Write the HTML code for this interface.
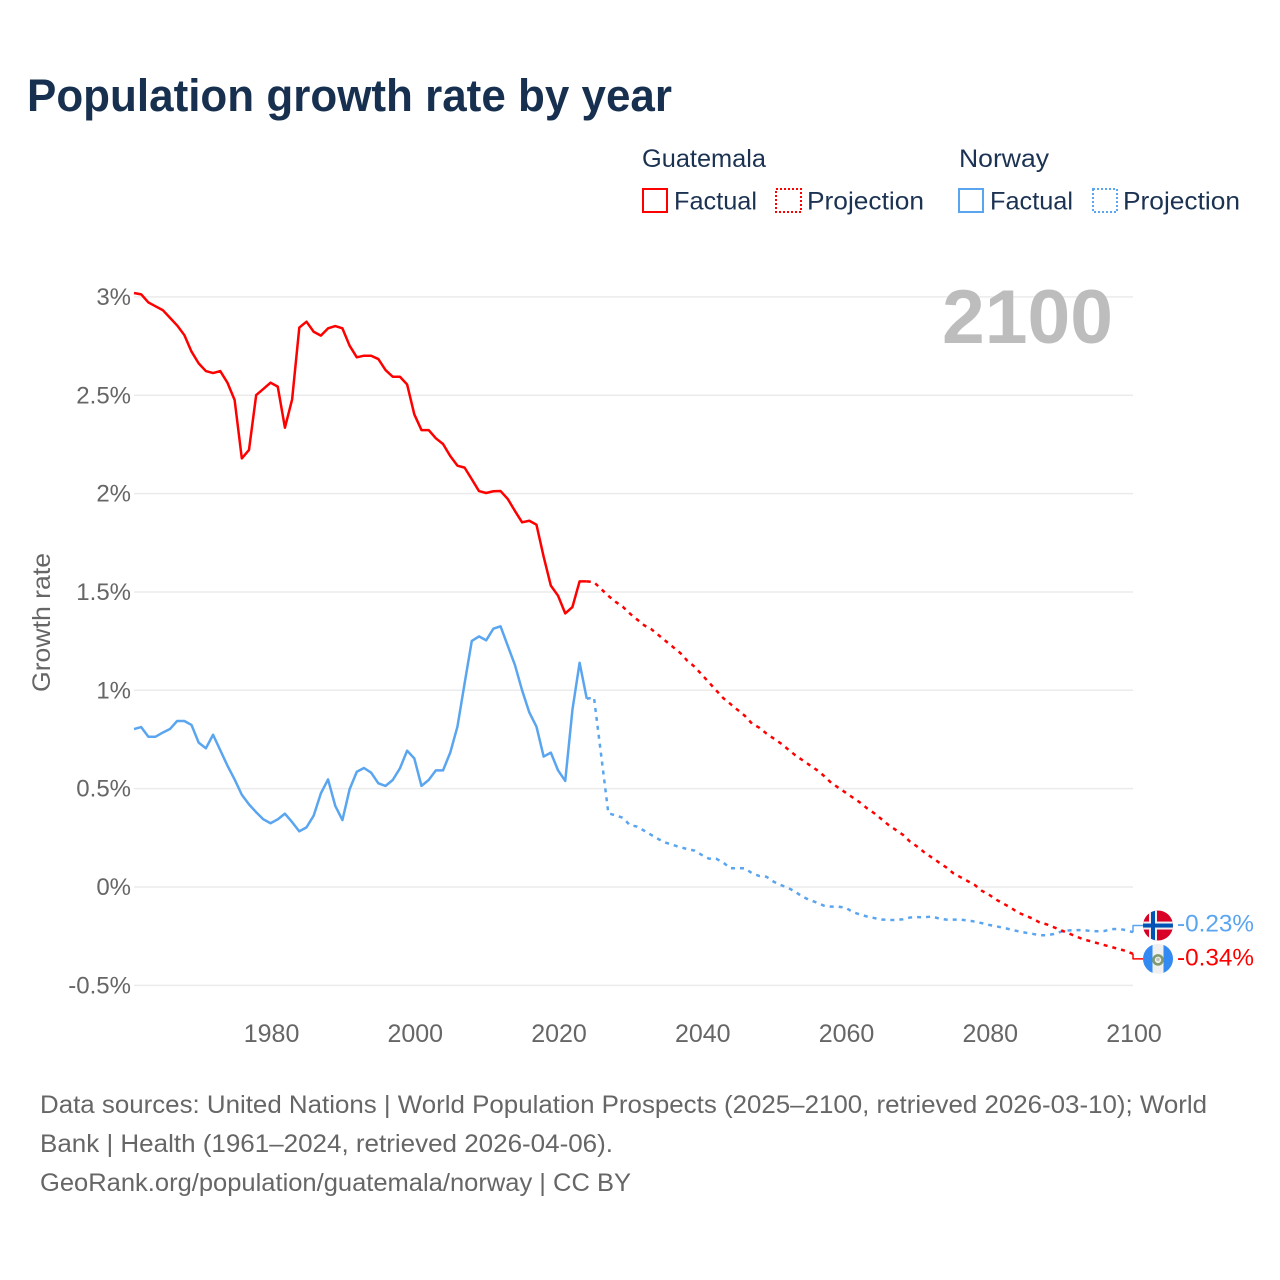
<!DOCTYPE html>
<html lang="en">
<head>
<meta charset="utf-8">
<title>Population growth rate by year</title>
<style>
html,body{margin:0;padding:0;background:#fff}
svg{display:block}
text{font-family:"Liberation Sans",sans-serif}
</style>
</head>
<body>
<svg id="chart" xmlns="http://www.w3.org/2000/svg" width="1280" height="1280" viewBox="0 0 1280 1280">
  <defs>
    <clipPath id="clip-no"><circle cx="0" cy="0" r="15"/></clipPath>
    <clipPath id="clip-gt"><circle cx="0" cy="0" r="15"/></clipPath>
  </defs>
  <rect width="1280" height="1280" fill="#fff"/>
  <text x="27" y="111" font-size="45" font-weight="700" fill="#17304f" textLength="645" lengthAdjust="spacingAndGlyphs">Population growth rate by year</text>

  <g font-size="25" fill="#1b3252">
    <text x="642" y="167" textLength="124" lengthAdjust="spacingAndGlyphs">Guatemala</text>
    <text x="959" y="167" textLength="90" lengthAdjust="spacingAndGlyphs">Norway</text>
    <rect x="643" y="189" width="24" height="23" fill="none" stroke="#ff0000" stroke-width="2"/>
    <text x="674" y="209.5" textLength="83" lengthAdjust="spacingAndGlyphs">Factual</text>
    <rect x="776" y="189" width="25" height="23" fill="none" stroke="#ff0000" stroke-width="2" stroke-dasharray="2 2"/>
    <text x="807" y="209.5" textLength="117" lengthAdjust="spacingAndGlyphs">Projection</text>
    <rect x="959" y="189" width="24" height="23" fill="none" stroke="#5aa5f0" stroke-width="2"/>
    <text x="990" y="209.5" textLength="83" lengthAdjust="spacingAndGlyphs">Factual</text>
    <rect x="1093" y="189" width="24" height="23" fill="none" stroke="#5aa5f0" stroke-width="2" stroke-dasharray="2 2"/>
    <text x="1123" y="209.5" textLength="117" lengthAdjust="spacingAndGlyphs">Projection</text>
  </g>

  <g id="grid"></g>
  <g id="yticks"></g>
  <g id="xticks"></g>

  <text x="0" y="0" transform="translate(50,622.5) rotate(-90)" text-anchor="middle" font-size="25" fill="#666666" textLength="139" lengthAdjust="spacingAndGlyphs">Growth rate</text>
  <text x="1113" y="343" text-anchor="end" font-size="76" font-weight="700" fill="#bdbdbd" textLength="171" lengthAdjust="spacingAndGlyphs">2100</text>

  <g id="series"></g>

  <g id="flag-no">
    <g clip-path="url(#clip-no)">
      <rect x="-15" y="-15" width="30" height="30" fill="#d80027"/>
      <rect x="-9" y="-15" width="8" height="30" fill="#f0f0f0"/>
      <rect x="-15" y="-4" width="30" height="8" fill="#f0f0f0"/>
      <rect x="-7" y="-15" width="4" height="30" fill="#0052b4"/>
      <rect x="-15" y="-2" width="30" height="4" fill="#0052b4"/>
    </g>
  </g>
  <g id="flag-gt">
    <g clip-path="url(#clip-gt)">
      <rect x="-15" y="-15" width="30" height="30" fill="#f0f0f0"/>
      <rect x="-15" y="-15" width="9.5" height="30" fill="#338af3"/>
      <rect x="5.5" y="-15" width="9.5" height="30" fill="#338af3"/>
      <circle cx="0" cy="1" r="4.5" fill="none" stroke="#7f9a6c" stroke-width="2.6"/>
      <circle cx="0" cy="0.5" r="1.8" fill="#c4c4bc"/>
    </g>
  </g>
  <text id="value-no" x="1177" font-size="24" fill="#5aa5f0" textLength="77" lengthAdjust="spacingAndGlyphs"></text>
  <text id="value-gt" x="1177" font-size="24" fill="#ff0000" textLength="77" lengthAdjust="spacingAndGlyphs"></text>

  <g font-size="25" fill="#666666">
    <text x="40" y="1113" textLength="1167" lengthAdjust="spacingAndGlyphs">Data sources: United Nations | World Population Prospects (2025–2100, retrieved 2026-03-10); World</text>
    <text x="40" y="1152" textLength="573" lengthAdjust="spacingAndGlyphs">Bank | Health (1961–2024, retrieved 2026-04-06).</text>
    <text x="40" y="1191" textLength="591" lengthAdjust="spacingAndGlyphs">GeoRank.org/population/guatemala/norway | CC BY</text>
  </g>
</svg>
<script>
const factualStartYear = 1961;
const projectionStartYear = 2025;
const guatemalaFactual = [3.02,3.013,2.972,2.952,2.933,2.894,2.855,2.806,2.722,2.662,2.623,2.613,2.623,2.564,2.476,2.179,2.222,2.501,2.532,2.564,2.544,2.335,2.479,2.844,2.874,2.823,2.803,2.84,2.852,2.84,2.752,2.693,2.701,2.701,2.684,2.628,2.594,2.594,2.555,2.403,2.323,2.323,2.281,2.252,2.191,2.142,2.132,2.073,2.013,2.003,2.012,2.013,1.973,1.912,1.854,1.862,1.842,1.679,1.532,1.481,1.391,1.423,1.554,1.554];
const guatemalaProjection = [1.55,1.515,1.48,1.45,1.425,1.39,1.36,1.33,1.31,1.28,1.25,1.22,1.19,1.15,1.12,1.08,1.04,1.0,0.96,0.93,0.9,0.87,0.83,0.81,0.78,0.755,0.73,0.7,0.67,0.645,0.62,0.595,0.565,0.53,0.505,0.48,0.455,0.43,0.4,0.375,0.345,0.315,0.29,0.265,0.23,0.205,0.175,0.15,0.125,0.1,0.07,0.05,0.03,0.01,-0.02,-0.04,-0.065,-0.085,-0.105,-0.13,-0.145,-0.16,-0.18,-0.19,-0.205,-0.22,-0.235,-0.25,-0.265,-0.275,-0.285,-0.295,-0.305,-0.315,-0.325,-0.34];
const norwayFactual = [0.803,0.813,0.764,0.764,0.785,0.803,0.844,0.844,0.824,0.734,0.705,0.774,0.696,0.617,0.547,0.469,0.42,0.38,0.344,0.324,0.344,0.373,0.33,0.283,0.303,0.363,0.476,0.547,0.413,0.34,0.497,0.586,0.605,0.581,0.527,0.514,0.544,0.603,0.693,0.654,0.514,0.544,0.593,0.593,0.683,0.815,1.035,1.251,1.274,1.254,1.313,1.325,1.227,1.129,1.0,0.888,0.815,0.663,0.683,0.593,0.539,0.9,1.14,0.957];
const norwayProjection = [0.964,0.67,0.375,0.364,0.352,0.315,0.307,0.286,0.264,0.243,0.225,0.214,0.202,0.193,0.185,0.163,0.144,0.144,0.124,0.095,0.095,0.095,0.07,0.056,0.052,0.027,0.01,-0.004,-0.024,-0.049,-0.066,-0.079,-0.095,-0.1,-0.1,-0.105,-0.127,-0.14,-0.15,-0.158,-0.165,-0.168,-0.168,-0.164,-0.155,-0.153,-0.154,-0.15,-0.16,-0.166,-0.166,-0.166,-0.17,-0.176,-0.184,-0.193,-0.2,-0.208,-0.216,-0.225,-0.232,-0.238,-0.245,-0.245,-0.239,-0.227,-0.221,-0.219,-0.219,-0.223,-0.225,-0.224,-0.214,-0.213,-0.219,-0.23];
const yTickValues = [3,2.5,2,1.5,1,0.5,0,-0.5];
const yTickLabels = ["3%","2.5%","2%","1.5%","1%","0.5%","0%","-0.5%"];
const xTickYears = [1980,2000,2020,2040,2060,2080,2100];
const xTickLabels = ["1980","2000","2020","2040","2060","2080","2100"];
const endValueLabels = ["-0.23%","-0.34%"];

const NS = "http://www.w3.org/2000/svg";
const plotLeft = 134, plotRight = 1133, yearMin = 1961, yearMax = 2100;
const yZero = 887, pxPerUnit = 196.7;
function xScale(year){ return plotLeft + (year - yearMin) * (plotRight - plotLeft) / (yearMax - yearMin); }
function yScale(v){ return yZero - v * pxPerUnit; }
function pts(values, startYear){ return values.map(function(v,i){ return xScale(startYear+i).toFixed(2)+","+yScale(v).toFixed(2); }).join(" "); }
function poly(parent, points, color, dash){
  const el = document.createElementNS(NS,"polyline");
  el.setAttribute("points", points);
  el.setAttribute("fill","none");
  el.setAttribute("stroke",color);
  el.setAttribute("stroke-width","2.5");
  el.setAttribute("stroke-linejoin","round");
  if(dash) el.setAttribute("stroke-dasharray",dash);
  parent.appendChild(el);
  return el;
}
const gridG = document.getElementById("grid");
const yG = document.getElementById("yticks");
const xG = document.getElementById("xticks");
const seriesG = document.getElementById("series");

yTickValues.forEach(function(v,i){
  const line = document.createElementNS(NS,"line");
  line.setAttribute("x1",plotLeft);
  line.setAttribute("x2",plotRight);
  line.setAttribute("y1",yScale(v));
  line.setAttribute("y2",yScale(v));
  line.setAttribute("stroke","#ebebeb");
  line.setAttribute("stroke-width","1.5");
  
  
  gridG.appendChild(line);
  const t = document.createElementNS(NS,"text");
  t.setAttribute("x",131);
  t.setAttribute("y",yScale(v)+8);
  t.setAttribute("text-anchor","end");
  t.setAttribute("font-size","24");
  t.setAttribute("fill","#666666");
  
  
  t.textContent = yTickLabels[i];
  yG.appendChild(t);
});
xTickYears.forEach(function(y,i){
  const t = document.createElementNS(NS,"text");
  t.setAttribute("x",xScale(y)+1);
  t.setAttribute("y",1042);
  t.setAttribute("text-anchor","middle");
  t.setAttribute("font-size","25");
  t.setAttribute("fill","#666666");
  
  
  t.textContent = xTickLabels[i];
  xG.appendChild(t);
});

const dashPattern = "4 5";
const lastFactualYear = factualStartYear + guatemalaFactual.length - 1;

const noF = poly(seriesG, pts(norwayFactual,factualStartYear), "#5aa5f0");


const noP = poly(seriesG, xScale(lastFactualYear).toFixed(2)+","+yScale(norwayFactual[norwayFactual.length-1]).toFixed(2)+" "+pts(norwayProjection,projectionStartYear), "#5aa5f0", dashPattern);


const gtF = poly(seriesG, pts(guatemalaFactual,factualStartYear), "#ff0000");


const gtP = poly(seriesG, xScale(lastFactualYear).toFixed(2)+","+yScale(guatemalaFactual[guatemalaFactual.length-1]).toFixed(2)+" "+pts(guatemalaProjection,projectionStartYear), "#ff0000", dashPattern);



const noEnd = yScale(norwayProjection[norwayProjection.length-1]);
const gtEnd = yScale(guatemalaProjection[guatemalaProjection.length-1]);
const noFlagY = noEnd - 6.7, gtFlagY = gtEnd + 5;
const flagX = 1158;
const noC = poly(seriesG, plotRight+","+noEnd.toFixed(2)+" "+plotRight+","+noFlagY.toFixed(2)+" "+(flagX-15)+","+noFlagY.toFixed(2), "#5aa5f0");
noC.setAttribute("stroke-width","1.5");


const gtC = poly(seriesG, plotRight+","+gtEnd.toFixed(2)+" "+plotRight+","+gtFlagY.toFixed(2)+" "+(flagX-15)+","+gtFlagY.toFixed(2), "#ff0000");
gtC.setAttribute("stroke-width","1.5");



document.getElementById("flag-no").setAttribute("transform","translate("+flagX+","+noFlagY+")");
document.getElementById("flag-gt").setAttribute("transform","translate("+flagX+","+gtFlagY+")");
const vNo = document.getElementById("value-no");
vNo.setAttribute("y",noFlagY+6);
vNo.textContent = endValueLabels[0];
const vGt = document.getElementById("value-gt");
vGt.setAttribute("y",gtFlagY+6.5);
vGt.textContent = endValueLabels[1];
</script>
</body>
</html>
